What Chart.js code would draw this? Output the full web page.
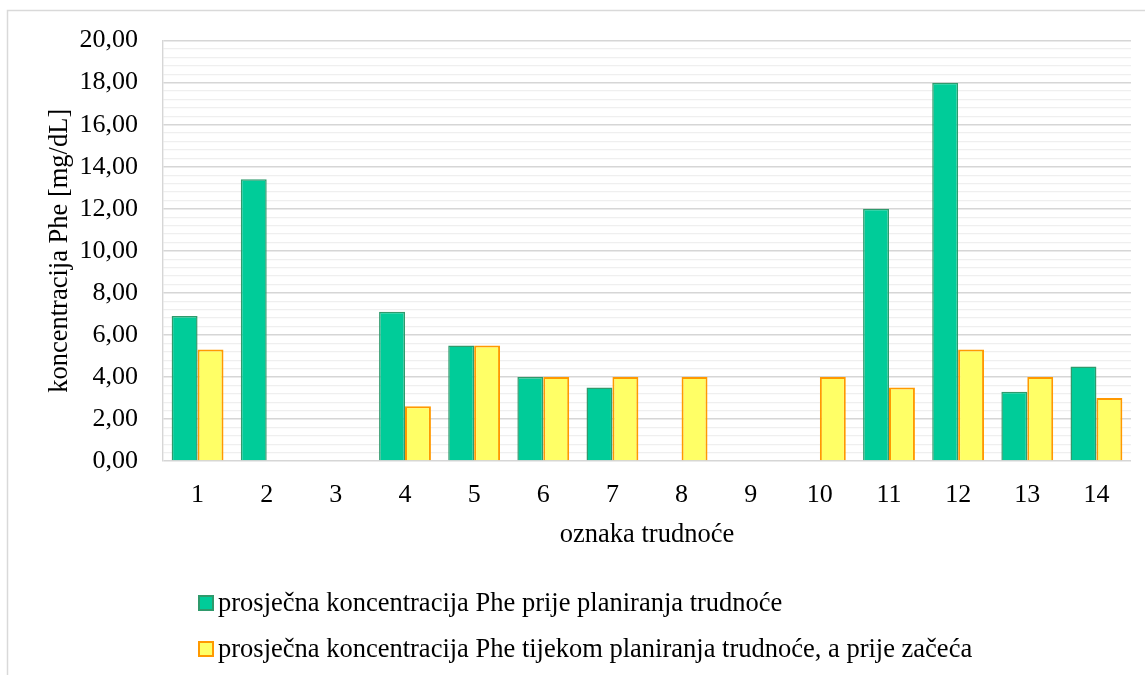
<!DOCTYPE html>
<html><head><meta charset="utf-8">
<script src="https://cdn.jsdelivr.net/npm/chart.js@4/dist/chart.umd.min.js"></script>
<style>html,body{margin:0;padding:0;background:#fff;overflow:hidden}canvas{display:block}</style>
</head><body>
<canvas id="c" width="1145" height="675" style="width:1145px;height:675px"></canvas>
<script>
const categories = ['1','2','3','4','5','6','7','8','9','10','11','12','13','14'];
const seriesBefore = [6.9, 13.4, null, 7.1, 5.5, 4.0, 3.5, null, null, null, 12.0, 18.0, 3.3, 4.5];
const seriesDuring = [5.3, null, null, 2.6, 5.5, 4.0, 4.0, 4.0, null, 4.0, 3.5, 5.3, 4.0, 3.0];
const seriesNames = [
  'prosječna koncentracija Phe prije planiranja trudnoće',
  'prosječna koncentracija Phe tijekom planiranja trudnoće, a prije začeća'
];
const yMin = 0, yMax = 20, yMajorStep = 2, yMinorStep = 0.4;
const xTitle = 'oznaka trudnoće';
const yTitle = 'koncentracija Phe [mg/dL]';

const FONT = "'Liberation Serif', 'Times New Roman', serif";
const colors = [
  {fill: '#00CC99', border: '#2F9A6C'},
  {fill: '#FFFF66', border: '#FF9900'}
];
const isMajor = v => Math.abs(v / yMajorStep - Math.round(v / yMajorStep)) < 1e-6;

const framePlugin = {
  id: 'frame',
  beforeDraw(chart) {
    const ctx = chart.ctx;
    ctx.save();
    ctx.fillStyle = '#fff';
    ctx.fillRect(0, 0, chart.width, chart.height);
    ctx.restore();
  },
  afterDraw(chart) {
    const ctx = chart.ctx;
    ctx.save();
    ctx.strokeStyle = '#d9d9d9';
    ctx.lineWidth = 1.5;
    ctx.beginPath();
    ctx.moveTo(7.5, chart.height);
    ctx.lineTo(7.5, 10.5);
    ctx.lineTo(chart.width, 10.5);
    ctx.stroke();
    // legend (vertical list)
    const items = [
      {text: seriesNames[0], c: colors[0], y: 611},
      {text: seriesNames[1], c: colors[1], y: 657}
    ];
    items.forEach(it => {
      ctx.fillStyle = it.c.fill;
      ctx.strokeStyle = it.c.border;
      ctx.lineWidth = 2;
      ctx.fillRect(199, it.y - 15, 14, 14);
      ctx.strokeRect(199, it.y - 15, 14, 14);
      ctx.fillStyle = '#000';
      ctx.font = '26.5px ' + FONT;
      ctx.textBaseline = 'alphabetic';
      ctx.textAlign = 'left';
      ctx.fillText(it.text, 218, it.y);
    });
    ctx.restore();
  }
};

new Chart(document.getElementById('c'), {
  type: 'bar',
  data: {
    labels: categories,
    datasets: [
      {label: seriesNames[0], data: seriesBefore, backgroundColor: colors[0].fill, borderColor: colors[0].border, borderWidth: 1.5},
      {label: seriesNames[1], data: seriesDuring, backgroundColor: colors[1].fill, borderColor: colors[1].border, borderWidth: 2}
    ]
  },
  options: {
    responsive: false,
    devicePixelRatio: 1,
    animation: false,
    categoryPercentage: 0.75,
    barPercentage: 1.0,
    layout: {padding: {left: 8, top: 40, right: 14, bottom: 0}},
    plugins: {legend: {display: false}, tooltip: {enabled: false}},
    scales: {
      x: {
        grid: {display: false, drawTicks: false},
        border: {display: false},
        ticks: {color: '#000', font: {family: FONT, size: 26}, padding: 19, maxRotation: 0, autoSkip: false},
        title: {display: true, text: xTitle, color: '#000', font: {family: FONT, size: 26.5}, padding: {top: 0, bottom: 124}},
        afterFit(s) { s.height = 214; }
      },
      y: {
        min: yMin, max: yMax,
        grid: {
          drawTicks: false,
          color: c => isMajor(c.tick.value) ? '#d6d6d6' : '#efefef',
          lineWidth: c => isMajor(c.tick.value) ? 1.4 : 1.2
        },
        border: {display: true, color: '#d6d6d6', width: 1.4},
        ticks: {
          stepSize: yMinorStep, autoSkip: false, maxTicksLimit: 200,
          color: '#000', font: {family: FONT, size: 26}, padding: 25,
          callback: v => isMajor(v) ? Number(v).toFixed(2).replace('.', ',') : ''
        },
        title: {display: true, text: yTitle, color: '#000', font: {family: FONT, size: 26.5}, padding: {top: 36, bottom: 0}},
        afterFit(s) { s.width = 155; }
      }
    }
  },
  plugins: [framePlugin]
});
</script>
</body></html>
